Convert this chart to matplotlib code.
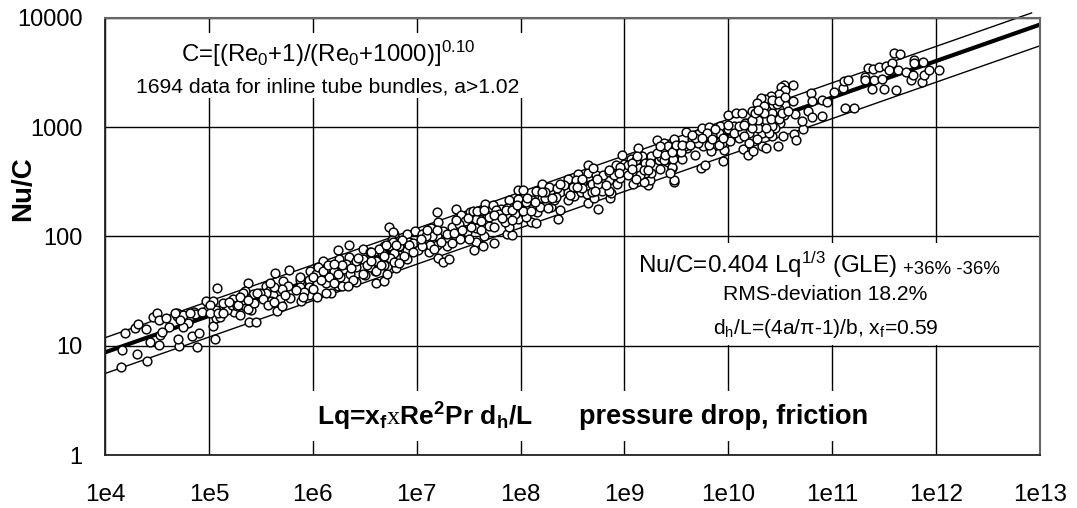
import numpy as np
import matplotlib
matplotlib.use("Agg")
import matplotlib.pyplot as plt

plt.rcParams["font.family"] = ["Liberation Sans", "DejaVu Sans"]
plt.rcParams["mathtext.fontset"] = "custom"
plt.rcParams["mathtext.rm"] = "Liberation Serif"
plt.rcParams["mathtext.bf"] = "Liberation Sans:bold"
plt.rcParams["mathtext.default"] = "regular"

# correlation and its +/-36% band
line_x = [1e4, 1e13]
fit_y = [8.7, 8704]
lower_y = [5.57, 5570]
upper_x = [1e4, 8.3e12]
upper_y = [11.84, 11130]

x_ticks = [1e4, 1e5, 1e6, 1e7, 1e8, 1e9, 1e10, 1e11, 1e12, 1e13]
x_labels = ["1e4", "1e5", "1e6", "1e7", "1e8", "1e9", "1e10", "1e11", "1e12", "1e13"]
y_ticks = [1, 10, 100, 1000, 10000]
y_labels = ["1", "10", "100", "1000", "10000"]

# decades: log10(Lq), log10(Nu/C)
log_lq = [
    4.15, 4.40, 4.31, 4.16, 4.43, 4.52, 4.53, 4.71, 4.89, 5.06, 4.70, 4.84, 4.90, 4.19, 4.29, 4.32,
    4.39, 4.62, 4.55, 4.46, 4.50, 4.52, 4.59, 4.69, 4.69, 4.75, 4.80, 4.75, 4.86, 4.87, 4.97, 4.98,
    5.04, 5.04, 5.04, 5.07, 5.11, 5.08, 5.12, 5.16, 5.23, 5.24, 5.30, 5.39, 5.45, 5.66, 5.38, 5.35,
    5.41, 5.42, 5.36, 5.35, 5.54, 5.55, 5.60, 5.64, 5.77, 5.71, 5.67, 5.68, 5.76, 5.78, 5.89, 5.89,
    5.96, 6.04, 5.97, 6.04, 6.10, 6.24, 6.35, 6.48, 6.70, 6.78, 6.25, 6.35, 6.17, 6.30, 6.43, 6.48,
    6.60, 6.50, 6.61, 6.69, 6.71, 6.18, 6.24, 6.42, 6.13,
    6.73, 6.77, 6.76, 6.69, 6.69, 6.83, 6.83, 6.91, 6.91, 6.91, 6.98, 6.93, 7.01, 7.05, 7.11, 7.12,
    7.14, 7.20, 7.21, 7.20, 7.21, 7.25, 7.31, 7.25, 7.29, 7.29, 7.38, 7.38, 7.42, 7.43, 7.48, 7.51,
    7.57, 7.57, 7.57, 7.55, 7.64, 7.74, 7.66, 7.68, 7.73, 7.70, 7.65, 7.81, 7.87, 7.89, 7.91, 7.98,
    8.02, 7.98, 8.00, 7.87, 7.92, 7.89, 7.85, 7.98, 8.10, 8.15, 8.16, 8.06, 8.11, 8.15, 8.21, 8.21,
    8.19, 8.29, 8.28, 8.32, 8.36, 8.38, 8.38, 8.46, 8.51, 8.46, 8.55, 8.65, 8.65, 8.65, 8.75, 8.86,
    8.58, 8.64, 8.71, 8.78, 8.87, 8.85, 8.93, 8.73, 8.70, 8.92, 9.00, 8.98, 8.96, 9.08, 9.09, 9.14,
    9.13, 9.23, 9.25, 9.19, 9.26, 9.33, 9.31, 9.43, 9.48, 9.46, 9.48, 9.42, 9.06, 9.17, 9.26, 9.34,
    9.48, 9.74, 9.78, 9.46, 9.55, 9.42, 9.36, 9.48, 9.59, 9.71, 9.75, 9.81, 9.92, 10.0, 10.07, 10.13,
    9.96, 9.95, 9.86, 9.76, 9.68, 9.83, 10.0, 9.91, 10.05, 10.10, 10.18, 10.14, 10.19, 10.24, 10.32,
    10.36, 10.48, 10.42, 10.53, 10.63, 10.65, 10.72, 10.71, 10.64, 10.77, 10.81, 10.90, 10.80, 10.81,
    10.90, 10.95, 11.02, 11.10, 11.11, 11.15, 11.12, 11.21, 11.38, 11.50, 11.61, 11.32, 11.32, 11.40,
    11.48, 11.34, 11.39, 11.45, 11.52, 11.58, 11.55, 11.63, 11.71, 11.76, 11.78, 11.86, 11.88, 11.93,
    12.03, 11.59, 11.65, 11.79, 11.79, 11.87, 10.62, 10.54, 10.51, 10.55, 10.49, 10.41, 10.35, 10.31,
    10.28, 10.62, 10.55, 10.49, 10.43, 10.36, 10.45, 10.54, 10.25, 10.16, 10.50, 10.45, 10.32, 10.20,
    10.29,
    5.33, 5.38, 5.33, 5.59, 5.62, 5.68, 5.70, 5.63, 5.59, 5.55, 5.60, 5.88, 5.96, 5.96, 5.88, 6.00,
    6.03, 6.13, 6.20, 6.23, 6.26, 6.36, 6.42, 6.48, 6.55, 6.61, 6.68, 6.77, 6.80, 6.71, 6.55, 6.42,
    6.32, 6.05, 6.16, 6.28, 6.39, 5.17, 5.22, 5.14, 5.07, 4.93, 4.82, 4.72, 4.67, 5.01, 5.27, 5.43,
    5.49,
    6.67, 6.73, 6.78, 6.83, 6.88, 6.96, 6.86, 7.04, 7.20, 7.15, 7.23, 7.13, 7.09, 7.20, 7.33, 7.34,
    7.46, 7.52, 7.50, 7.47, 7.62, 7.62, 7.70, 7.63, 7.76, 7.79, 7.87, 7.95, 7.92, 8.05, 8.05, 8.14,
    8.24, 8.26, 8.34, 8.27, 8.35, 8.46, 8.53, 8.59, 8.59, 8.69, 8.75, 8.69, 8.79, 8.85, 8.90, 9.01,
    9.03, 9.11, 9.20, 9.25, 9.07, 9.36, 9.43, 9.35, 9.20, 8.85, 8.50, 8.42,
    9.38, 9.42, 9.42, 9.52, 9.60, 9.49, 9.58, 9.65, 9.71, 9.84, 9.94, 10.02, 10.05, 10.13, 10.23,
    10.29, 10.36, 10.42, 10.47, 10.23, 10.34, 10.42, 10.39, 10.15, 9.87, 9.79, 9.68,
    5.88, 5.92, 6.00, 6.08, 6.10, 6.15, 6.20, 6.24, 6.28, 6.34, 6.37, 6.44, 6.52, 6.56, 6.61, 6.66,
    6.74, 6.77, 6.80, 6.64, 6.56, 6.20, 6.13, 5.91, 5.84,
    6.69, 6.70, 6.80, 6.78, 6.93, 6.96, 6.83, 7.05, 7.10, 7.04, 7.17, 7.29, 7.36, 7.41, 7.38, 7.44,
    7.34, 7.49, 7.54, 7.58, 7.65, 7.74, 7.74, 7.82, 7.86, 7.92, 8.02, 7.97, 8.06, 8.10, 8.24, 8.30,
    8.21, 8.38, 8.48, 8.54, 8.59, 8.72, 8.74, 8.82, 8.85, 8.96, 8.95, 9.03, 9.07, 9.15, 9.12, 9.19,
    9.11, 9.31, 9.23, 9.38, 9.47, 9.44,
    9.34, 9.39, 9.46, 9.50, 9.54, 9.55, 9.63, 9.65, 9.75, 9.81, 9.84, 9.91, 9.95, 10.0, 10.10, 10.15,
    10.23, 10.26, 10.34, 10.41, 10.49, 10.52, 10.29, 10.42, 10.49, 10.55, 10.57, 10.36, 10.28, 10.20,
    5.01, 5.09, 5.14, 5.19, 5.28, 5.30, 5.38, 5.46, 5.52, 5.57, 5.63, 5.73, 5.70,
]
log_nu = [
    0.81, 0.86, 0.92, 0.96, 1.03, 1.01, 1.10, 1.00, 0.99, 1.06, 1.06, 1.09, 1.12, 1.12, 1.16, 1.20,
    1.15, 1.17, 1.13, 1.26, 1.30, 1.24, 1.25, 1.27, 1.30, 1.28, 1.21, 1.17, 1.31, 1.29, 1.41, 1.33,
    1.41, 1.33, 1.18, 1.25, 1.26, 1.53, 1.33, 1.37, 1.43, 1.31, 1.28, 1.22, 1.22, 1.32, 1.57, 1.36,
    1.33, 1.47, 1.45, 1.50, 1.47, 1.55, 1.39, 1.67, 1.69, 1.59, 1.49, 1.39, 1.55, 1.44, 1.41, 1.57,
    1.46, 1.45, 1.68, 1.67, 1.78, 1.88, 1.92, 1.89, 1.90, 2.02, 1.79, 1.81, 1.72, 1.70, 1.67, 1.79,
    1.68, 1.65, 1.57, 1.59, 1.73, 1.48, 1.55, 1.58, 1.57,
    2.09, 2.04, 1.97, 1.91, 1.74, 1.77, 1.83, 2.02, 1.88, 1.79, 2.05, 1.95, 1.88, 2.02, 1.95, 1.86,
    2.08, 2.22, 2.13, 1.92, 1.80, 1.77, 1.79, 2.05, 1.98, 1.91, 2.09, 2.25, 1.98, 2.20, 2.04, 2.22,
    2.16, 2.08, 1.95, 1.88, 1.91, 1.94, 2.30, 2.20, 2.29, 2.10, 2.00, 2.25, 2.18, 2.33, 2.26, 2.43,
    2.43, 2.34, 2.23, 2.02, 2.01, 2.09, 2.13, 2.16, 2.13, 2.12, 2.22, 2.24, 2.33, 2.42, 2.48, 2.35,
    2.27, 2.27, 2.42, 2.33, 2.16, 2.24, 2.41, 2.33, 2.37, 2.53, 2.57, 2.65, 2.58, 2.31, 2.25, 2.35,
    2.41, 2.39, 2.35, 2.42, 2.40, 2.52, 2.48, 2.56, 2.63, 2.65, 2.66, 2.75, 2.54, 2.48, 2.58, 2.63,
    2.81, 2.47, 2.52, 2.50, 2.58, 2.70, 2.88, 2.82, 2.88, 2.63, 2.50, 2.68, 2.71, 2.74, 2.74, 2.62,
    2.52, 2.63, 2.65, 2.64, 2.71, 2.71, 2.80, 2.89, 2.96, 2.94, 2.99, 3.00, 3.01, 3.11, 3.13, 3.13,
    2.79, 2.69, 2.83, 2.83, 2.75, 2.78, 2.98, 2.95, 3.01, 2.90, 3.04, 2.80, 2.75, 2.78, 2.83,
    2.81, 2.83, 2.92, 2.92, 2.94, 2.88, 2.98, 3.06, 3.12, 3.15, 3.09, 3.10, 3.31, 3.24,
    3.25, 3.23, 3.32, 3.36, 3.42, 3.43, 3.18, 3.18, 3.35, 3.35, 3.34, 3.46, 3.43, 3.43,
    3.44, 3.54, 3.53, 3.55, 3.56, 3.59, 3.52, 3.52, 3.51, 3.43, 3.48, 3.41, 3.48, 3.52,
    3.52, 3.68, 3.67, 3.62, 3.59, 3.60, 3.39, 3.39, 3.37, 3.34, 3.30, 3.29, 3.26, 3.27,
    3.22, 3.24, 3.20, 3.17, 3.20, 3.07, 3.08, 3.11, 3.08, 3.04, 3.04, 2.99, 2.95, 2.95,
    2.99,
    1.42, 1.34, 1.48, 1.51, 1.46, 1.43, 1.52, 1.54, 1.57, 1.48, 1.41, 1.60, 1.60, 1.54, 1.54, 1.52,
    1.66, 1.71, 1.68, 1.58, 1.63, 1.66, 1.72, 1.66, 1.72, 1.78, 1.83, 1.90, 1.81, 1.66, 1.86, 1.78,
    1.75, 1.72, 1.63, 1.74, 1.60, 1.33, 1.37, 1.39, 1.33, 1.31, 1.30, 1.24, 1.30, 1.37, 1.36, 1.39,
    1.48,
    1.85, 1.91, 1.85, 1.91, 1.82, 1.94, 1.97, 1.94, 2.00, 2.00, 1.95, 1.92, 2.00, 2.06, 2.03, 2.09,
    2.12, 2.09, 1.98, 2.14, 2.14, 2.06, 2.18, 2.23, 2.24, 2.21, 2.26, 2.21, 2.15, 2.18, 2.32, 2.32,
    2.35, 2.26, 2.36, 2.45, 2.44, 2.41, 2.52, 2.50, 2.44, 2.48, 2.48, 2.41, 2.56, 2.59, 2.56, 2.59,
    2.65, 2.70, 2.67, 2.67, 2.67, 2.79, 2.73, 2.73, 2.58, 2.42, 2.45, 2.47,
    2.86, 2.83, 2.75, 2.78, 2.81, 2.81, 2.83, 2.89, 2.86, 2.93, 2.86, 2.87, 2.95, 2.96, 2.99,
    3.07, 3.16, 3.13, 3.21, 3.15, 3.19, 3.01, 2.95, 2.92, 2.98, 2.95, 2.90,
    1.63, 1.49, 1.63, 1.60, 1.68, 1.74, 1.75, 1.66, 1.55, 1.55, 1.71, 1.80, 1.74, 1.78, 1.68, 1.74,
    1.80, 1.95, 1.71, 1.89, 1.86, 1.57, 1.48, 1.45, 1.51,
    1.82, 1.92, 1.92, 1.77, 1.92, 1.86, 1.76, 1.91, 2.06, 1.98, 1.89, 2.02, 2.03, 2.11, 2.15, 2.06,
    1.94, 2.17, 2.23, 2.23, 2.24, 2.20, 2.09, 2.17, 2.24, 2.24, 2.23, 2.29, 2.35, 2.23, 2.41, 2.35,
    2.41, 2.48, 2.38, 2.45, 2.53, 2.42, 2.53, 2.47, 2.61, 2.64, 2.58, 2.56, 2.62, 2.56, 2.74, 2.61,
    2.53, 2.76, 2.61, 2.70, 2.71, 2.58,
    2.83, 2.75, 2.77, 2.84, 2.77, 2.84, 2.84, 2.93, 2.90, 2.84, 2.89, 2.84, 2.90, 3.02, 3.01, 3.02,
    3.07, 3.13, 3.13, 3.08, 3.08, 3.13, 3.16, 3.25, 3.24, 3.28, 3.15, 2.99, 2.89, 2.86,
    1.30, 1.30, 1.30, 1.40, 1.37, 1.45, 1.42, 1.48, 1.43, 1.37, 1.40, 1.46, 1.36,
]

lq = 10 ** np.array(log_lq)
nu = 10 ** np.array(log_nu)

fig = plt.figure(figsize=(10.77, 5.08), dpi=100)
ax = fig.add_axes([105 / 1077, 1 - 455 / 508, 935 / 1077, 437 / 508])
ax.set_xscale("log")
ax.set_yscale("log")
ax.set_xlim(1e4, 1e13)
ax.set_ylim(1, 1e4)

ax.grid(True, which="major", color="black", linewidth=1.0, zorder=1)
ax.set_axisbelow(True)

ax.plot(line_x, lower_y, color="black", linewidth=1.0, zorder=2)
ax.plot(upper_x, upper_y, color="black", linewidth=1.0, zorder=2, clip_on=False)
ax.plot(line_x, fit_y, color="black", linewidth=3.0, zorder=2, solid_capstyle="butt")
ax.plot(lq, nu, "o", markerfacecolor="white", markeredgecolor="black", markersize=6.3,
        markeredgewidth=1.05, zorder=3)

ax.set_xticks(x_ticks)
ax.set_xticklabels(x_labels, fontsize=17.5)
ax.set_yticks(y_ticks)
ax.set_yticklabels(y_labels, fontsize=17)
ax.minorticks_off()
ax.tick_params(axis="x", length=0, pad=21)
ax.tick_params(axis="y", length=0, pad=16)
fig.text(23 / 1077, 1 - 189 / 508, "Nu/C", fontsize=20, fontweight="bold", rotation=90,
         ha="center", va="center")

for side in ["left", "bottom"]:
    ax.spines[side].set_color("#222222")
    ax.spines[side].set_linewidth(1.3)
for side in ["top", "right"]:
    ax.spines[side].set_color("#666666")
    ax.spines[side].set_linewidth(1.5)


def label(px, py, text, size, weight="normal", ha="center"):
    ax.text(px / 1077, 1 - py / 508, text, transform=fig.transFigure, fontsize=size,
            fontweight=weight, ha=ha, va="center", zorder=6)


# white panels that hide the grid behind the annotations
for x0, y0, x1, y1 in [(130, 33, 530, 98), (630, 243, 1015, 345), (311, 391, 875, 441)]:
    panel = plt.Rectangle((x0 / 1077, 1 - y1 / 508), (x1 - x0) / 1077, (y1 - y0) / 508,
                          transform=fig.transFigure, facecolor="white",
                          edgecolor="none", zorder=5)
    ax.add_patch(panel)

label(328, 54, r"C=[(Re$_{0}$+1)/(Re$_{0}$+1000)]$^{0.10}$", 17.3)
label(328, 87, "1694 data for inline tube bundles, a>1.02", 15.2)
label(638, 265, r"Nu/C=0.404 Lq$^{1/3}$ (GLE)", 17.4, ha="left")
label(903, 270, "+36% -36%", 13.4, ha="left")
label(825, 295, "RMS-deviation 18.2%", 15.2)
label(826, 328, r"d$_{h}$/L=(4a/π-1)/b, x$_{f}$=0.59", 15.1)
label(317, 417, r"Lq=x$_{f}$$\mathrm{x}$Re$^{2}$Pr d$_{h}$/L", 19, "bold", ha="left")
label(579, 417, "pressure drop, friction", 19.5, "bold", ha="left")

fig.savefig("out.png", dpi=100)
